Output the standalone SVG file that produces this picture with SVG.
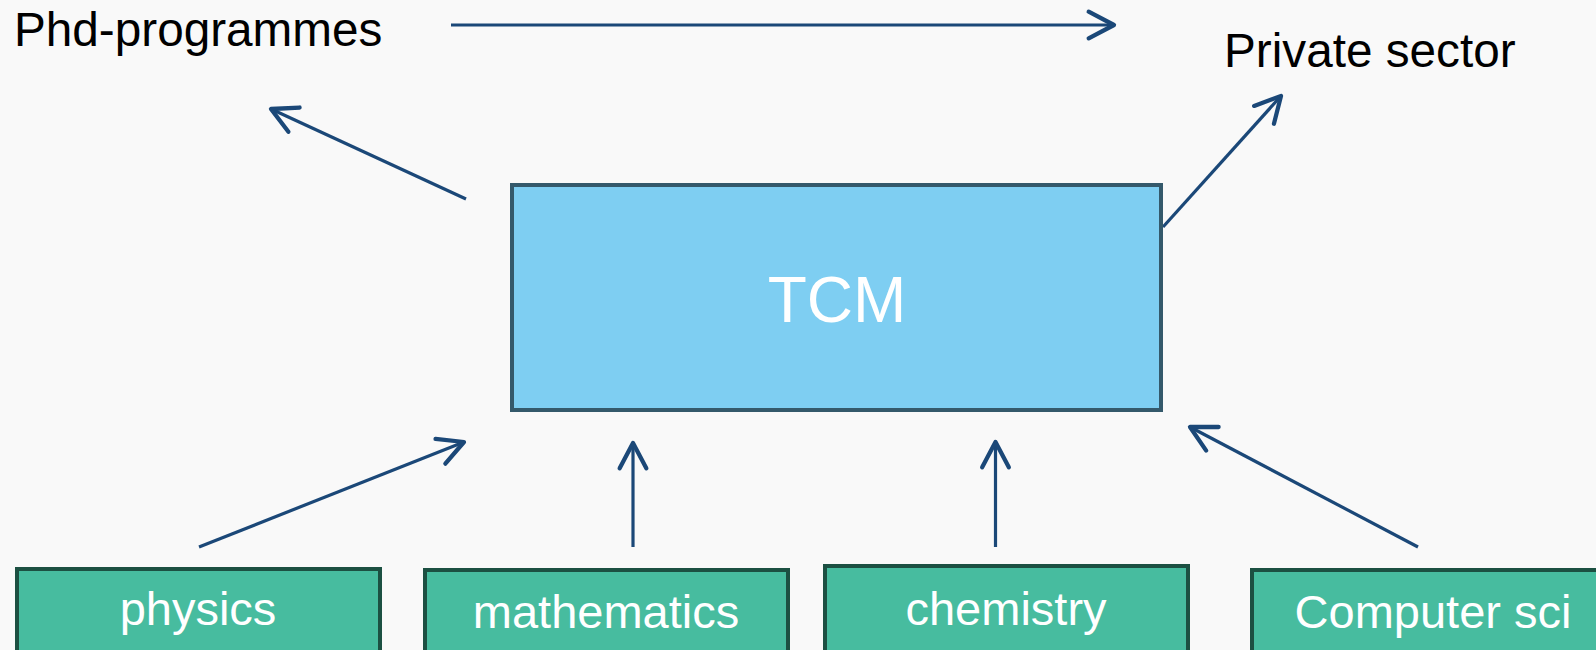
<svg xmlns="http://www.w3.org/2000/svg" width="1596" height="650" viewBox="0 0 1596 650">
  <defs>
    <style>
      .lbl { font-family: "Liberation Sans", Arial, sans-serif; }
      .dark { fill: #000000; font-size: 47.7px; }
      .white { fill: #ffffff; }
      .sub { font-size: 47px; }
      .tcm { fill: #7ecef2; stroke: #34596b; stroke-width: 4; }
      .field { fill: #47bc9f; stroke: #1c5042; stroke-width: 4; }
      .conn { stroke: #1b4878; stroke-width: 3.2; fill: none; marker-end: url(#arrow); }
    </style>
    <marker id="arrow" markerUnits="userSpaceOnUse" markerWidth="40" markerHeight="40" refX="0" refY="0" viewBox="-25 -15 30 30" orient="auto" overflow="visible">
      <path d="M-19,-10 L0,0 L-19,10" fill="none" stroke="#1b4878" stroke-width="3.2" stroke-linecap="round" stroke-linejoin="round"/>
    </marker>
  </defs>
  <rect x="0" y="0" width="1596" height="650" fill="#f9f9f9"/>

  <g id="connectors">
    <line class="conn" x1="451" y1="25" x2="1114" y2="25"/>
    <line class="conn" x1="466" y1="199" x2="271" y2="109"/>
    <line class="conn" x1="1163" y1="227" x2="1281" y2="96"/>
    <line class="conn" x1="199" y1="547" x2="464" y2="442"/>
    <line class="conn" x1="633" y1="547" x2="633" y2="443"/>
    <line class="conn" x1="995.5" y1="547" x2="995.5" y2="442"/>
    <line class="conn" x1="1418" y1="547" x2="1190" y2="427"/>
  </g>

  <g id="phd">
    <text class="lbl dark" x="14" y="45.5">Phd-programmes</text>
  </g>
  <g id="private">
    <text class="lbl dark" x="1224" y="67">Private sector</text>
  </g>

  <g id="tcm">
    <rect class="tcm" x="512" y="185" width="649" height="225"/>
    <text class="lbl white" x="837" y="322" font-size="64" text-anchor="middle">TCM</text>
  </g>

  <g id="physics">
    <rect class="field" x="17" y="569" width="363" height="100"/>
    <text class="lbl white sub" x="198" y="625" text-anchor="middle">physics</text>
  </g>
  <g id="mathematics">
    <rect class="field" x="425" y="570" width="363" height="100"/>
    <text class="lbl white sub" x="606" y="628" text-anchor="middle">mathematics</text>
  </g>
  <g id="chemistry">
    <rect class="field" x="825" y="566" width="363" height="100"/>
    <text class="lbl white sub" x="1006" y="625" text-anchor="middle">chemistry</text>
  </g>
  <g id="computer">
    <rect class="field" x="1252" y="570" width="363" height="100"/>
    <text class="lbl white sub" x="1433" y="628" text-anchor="middle">Computer sci</text>
  </g>
</svg>
